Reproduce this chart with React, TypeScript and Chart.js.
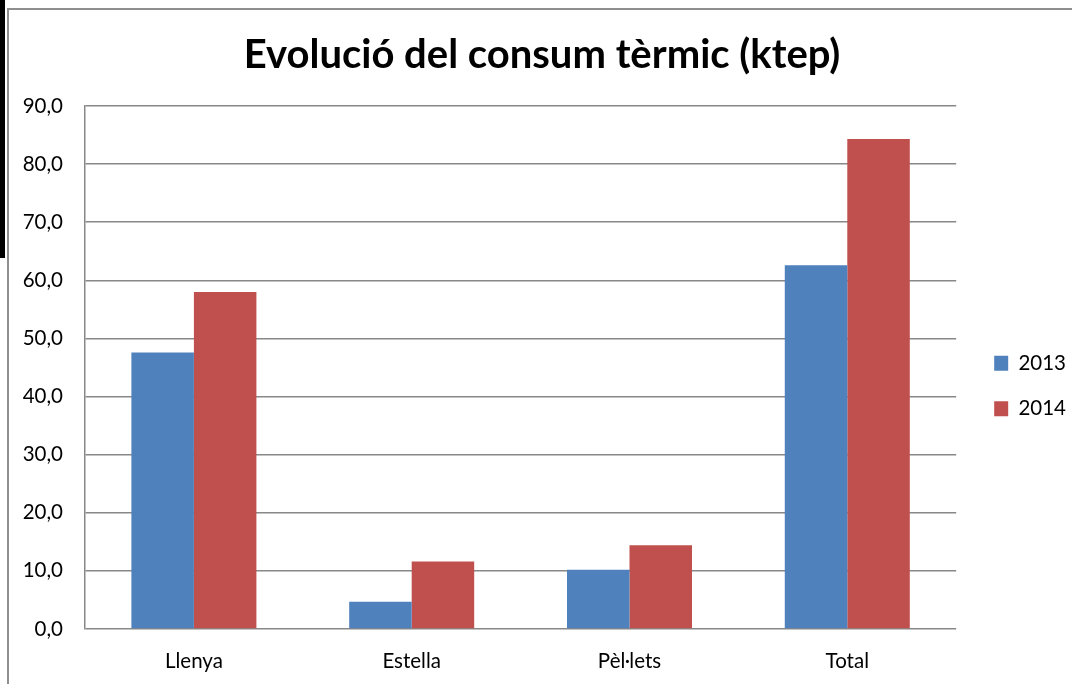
import React, { useEffect, useRef } from "react";
import { Chart, registerables } from "chart.js";

Chart.register(...registerables);

const categories = ["Llenya", "Estella", "Pèl·lets", "Total"];
const seriesLabels = ["2013", "2014"];
const values2013 = [47.6, 4.7, 10.2, 62.6];
const values2014 = [58.0, 11.6, 14.4, 84.3];
const seriesColors = ["#4F81BD", "#C0504D"];
const titleText = "Evolució del consum tèrmic (ktep)";
const yMin = 0;
const yMax = 90;
const yStep = 10;

const FONT = "Lato, 'Open Sans', sans-serif";
const GRID = "#888888";
const LABEL_SIZE = 20.5;

export default function App() {
  const ref = useRef<HTMLCanvasElement | null>(null);

  useEffect(() => {
    document.body.style.margin = "0";
    document.body.style.overflow = "hidden";
    if (!ref.current) return;
    const chart = new Chart(ref.current, {
      type: "bar",
      data: {
        labels: categories,
        datasets: [
          {
            label: seriesLabels[0],
            data: values2013,
            backgroundColor: seriesColors[0],
            borderWidth: 0,
            xAxisID: "x",
            yAxisID: "y",
          },
          {
            label: seriesLabels[1],
            data: values2014,
            backgroundColor: seriesColors[1],
            borderWidth: 0,
            xAxisID: "x",
            yAxisID: "y",
          },
        ],
      },
      options: {
        responsive: false,
        animation: false,
        devicePixelRatio: 1,
        layout: { padding: { left: 0, top: 0, right: 4, bottom: 0 } },
        datasets: {
          bar: { categoryPercentage: 0.574, barPercentage: 1 },
        },
        plugins: {
          title: {
            display: true,
            text: titleText,
            color: "#000",
            font: { family: FONT, size: 40, weight: "bold", lineHeight: 1.2 },
            padding: { top: 23, bottom: 27 },
          },
          legend: {
            display: true,
            position: "right",
            fullSize: false,
            title: {
              display: true,
              text: "",
              font: { size: 10, lineHeight: 1 },
              padding: { top: 27, bottom: 0 },
            },
            labels: {
              boxWidth: 14,
              boxHeight: 15,
              padding: 25,
              color: "#000",
              font: { family: FONT, size: LABEL_SIZE },
            },
          },
          tooltip: { enabled: false },
        },
        scales: {
          x: {
            grid: { display: false, drawTicks: false },
            border: { display: false },
            ticks: {
              color: "#000",
              padding: 20,
              font: { family: FONT, size: LABEL_SIZE },
              maxRotation: 0,
            },
            afterFit: (s: any) => {
              s.height = 55;
            },
          },
          y: {
            min: yMin,
            max: yMax,
            ticks: {
              stepSize: yStep,
              color: "#000",
              padding: 22,
              font: { family: FONT, size: LABEL_SIZE },
              callback: (v: any) => Number(v).toFixed(1).replace(".", ","),
            },
            grid: { color: GRID, lineWidth: 1.5, drawTicks: false },
            border: { display: true, color: GRID, width: 1.5 },
            afterFit: (s: any) => {
              s.width = 77;
            },
          },
          y2: {
            position: "right",
            display: true,
            grid: { display: false, drawTicks: false },
            ticks: { display: false },
            border: { display: false },
            afterFit: (s: any) => {
              s.width = 13;
            },
          },
        },
      },
    });
    return () => chart.destroy();
  }, []);

  return (
    <div
      style={{
        position: "fixed",
        left: 0,
        top: 0,
        width: 1072,
        height: 684,
        overflow: "hidden",
        background: "#fff",
      }}
    >
      <div style={{ position: "absolute", left: 0, top: 0, width: 5, height: 258, background: "#000" }} />
      <div style={{ position: "absolute", left: 7, top: 8, width: 2, height: 676, background: "#8e8e8e" }} />
      <div style={{ position: "absolute", left: 7, top: 8, width: 1065, height: 2, background: "#8e8e8e" }} />
      <canvas
        ref={ref}
        width={1072}
        height={676}
        style={{ position: "absolute", left: 8, top: 8, width: 1072, height: 676 }}
      />
    </div>
  );
}
